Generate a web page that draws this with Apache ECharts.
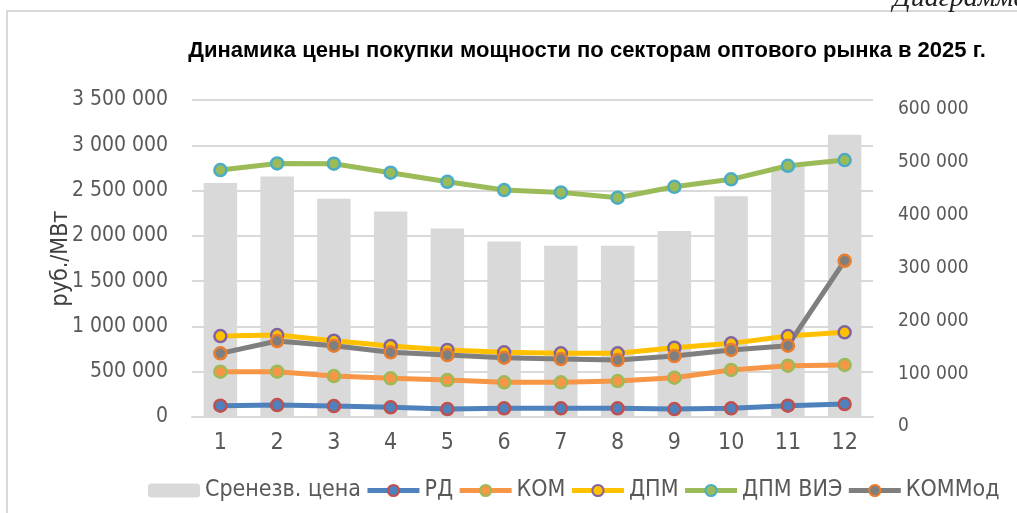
<!DOCTYPE html>
<html lang="ru">
  <head>
    <meta charset="UTF-8" />
    <title>Динамика цены покупки мощности</title>
    <script src="https://cdn.jsdelivr.net/npm/echarts@6.0.0/dist/echarts.min.js"></script>
    <style>
      html,
      body {
        margin: 0;
        padding: 0;
        background: #fff;
      }
      #main {
        width: 1017px;
        height: 513px;
      }
    </style>
  </head>
  <body>
    <div id="main"></div>
    <script>
      // данные
      var months = ["1", "2", "3", "4", "5", "6", "7", "8", "9", "10", "11", "12"];
      var avgPrice = [443000, 455000, 413000, 389000, 357000, 332000, 324000, 324000, 352000, 418000, 474000, 534000];
      var rd = [125000, 132000, 121000, 107000, 88000, 96000, 96000, 96000, 88000, 96000, 125000, 143000];
      var kom = [500000, 500000, 452000, 427000, 408000, 383000, 383000, 397000, 434000, 519000, 566000, 575000];
      var dpm = [894000, 905000, 842000, 784000, 740000, 714000, 703000, 703000, 765000, 813000, 894000, 935000];
      var dpmVie = [2726000, 2800000, 2797000, 2697000, 2597000, 2506000, 2480000, 2421000, 2542000, 2624000, 2774000, 2837000];
      var komMod = [703000, 839000, 787000, 714000, 684000, 655000, 640000, 629000, 673000, 740000, 787000, 1725000];

      var narrow = "'Liberation Sans Narrow', 'DejaVu Sans Condensed', Arial, sans-serif";

      function fmt(v) {
        return String(v).replace(/\B(?=(\d{3})+(?!\d))/g, " ");
      }

      // линия с кружками
      function lineSeries(name, data, lineColor, fill, border) {
        return {
          name: name,
          type: "line",
          yAxisIndex: 0,
          data: data,
          symbol: "circle",
          symbolSize: 12,
          lineStyle: { color: lineColor, width: 5 },
          itemStyle: { color: fill, borderColor: border, borderWidth: 2.5 },
          emphasis: { disabled: true },
        };
      }

      var myChart = echarts.init(document.getElementById("main"));
      var option = {
        backgroundColor: "#fff",
        animation: false,
        title: {
          text: "Динамика цены покупки мощности по секторам оптового рынка в 2025 г.",
          left: 582,
          textAlign: "center",
          top: 35,
          textStyle: {
            fontFamily: "'Liberation Sans', Arial, sans-serif",
            fontWeight: "bold",
            fontSize: 22,
            color: "#000",
          },
        },
        graphic: [
          {
            type: "rect",
            shape: { x: 7, y: 11, width: 1200, height: 700 },
            style: { fill: null, stroke: "#d9d9d9", lineWidth: 2 },
            silent: true,
          },
          {
            type: "text",
            x: 893,
            y: 13,
            style: {
              text: "Диаграмма",
              font: "italic 28px 'Liberation Serif', serif",
              fill: "#222",
              verticalAlign: "bottom",
            },
            silent: true,
          },
        ],
        legend: {
          left: 143,
          top: 474,
          width: 1000,
          itemWidth: 52,
          itemHeight: 14,
          itemGap: 4,
          lineStyle: { width: 5 },
          textStyle: { fontFamily: narrow, fontSize: 23, color: "#595959" },
          data: ["Сренезв. цена", "РД", "КОМ", "ДПМ", "ДПМ ВИЭ", "КОММод"],
        },
        grid: { left: 192, right: 144, top: 100, bottom: 96 },
        xAxis: {
          type: "category",
          data: months,
          axisLine: { show: true, lineStyle: { color: "#d9d9d9", width: 2 } },
          axisTick: { show: false },
          axisLabel: { fontFamily: narrow, fontSize: 23, color: "#595959", margin: 15 },
        },
        yAxis: [
          {
            type: "value",
            min: 0,
            max: 3500000,
            interval: 500000,
            name: "руб./МВт",
            nameLocation: "middle",
            nameGap: 119,
            nameMoveOverlap: false,
            nameTextStyle: { fontFamily: narrow, fontSize: 23, color: "#404040" },
            axisLine: { show: false },
            axisTick: { show: false },
            axisLabel: { fontFamily: narrow, fontSize: 21, color: "#595959", margin: 24, formatter: fmt },
            splitLine: { lineStyle: { color: "#d9d9d9", width: 2 } },
          },
          {
            type: "value",
            min: 0,
            max: 600000,
            interval: 100000,
            position: "right",
            axisLine: { show: false },
            axisTick: { show: false },
            axisLabel: {
              fontFamily: narrow,
              fontSize: 19,
              color: "#595959",
              margin: 25,
              verticalAlign: "top",
              formatter: fmt,
            },
            splitLine: { show: false },
          },
        ],
        series: [
          {
            name: "Сренезв. цена",
            type: "bar",
            yAxisIndex: 1,
            data: avgPrice,
            barCategoryGap: "41%",
            itemStyle: { color: "#d9d9d9" },
            emphasis: { disabled: true },
          },
          lineSeries("РД", rd, "#4f81bd", "#4f81bd", "#c0504d"),
          lineSeries("КОМ", kom, "#f79646", "#f79646", "#9bbb59"),
          lineSeries("ДПМ", dpm, "#ffc000", "#ffc000", "#8064a2"),
          lineSeries("ДПМ ВИЭ", dpmVie, "#9bbb59", "#9bbb59", "#4bacc6"),
          lineSeries("КОММод", komMod, "#7f7f7f", "#7f7f7f", "#e87d2e"),
        ],
      };
      option && myChart.setOption(option);
    </script>
  </body>
</html>
